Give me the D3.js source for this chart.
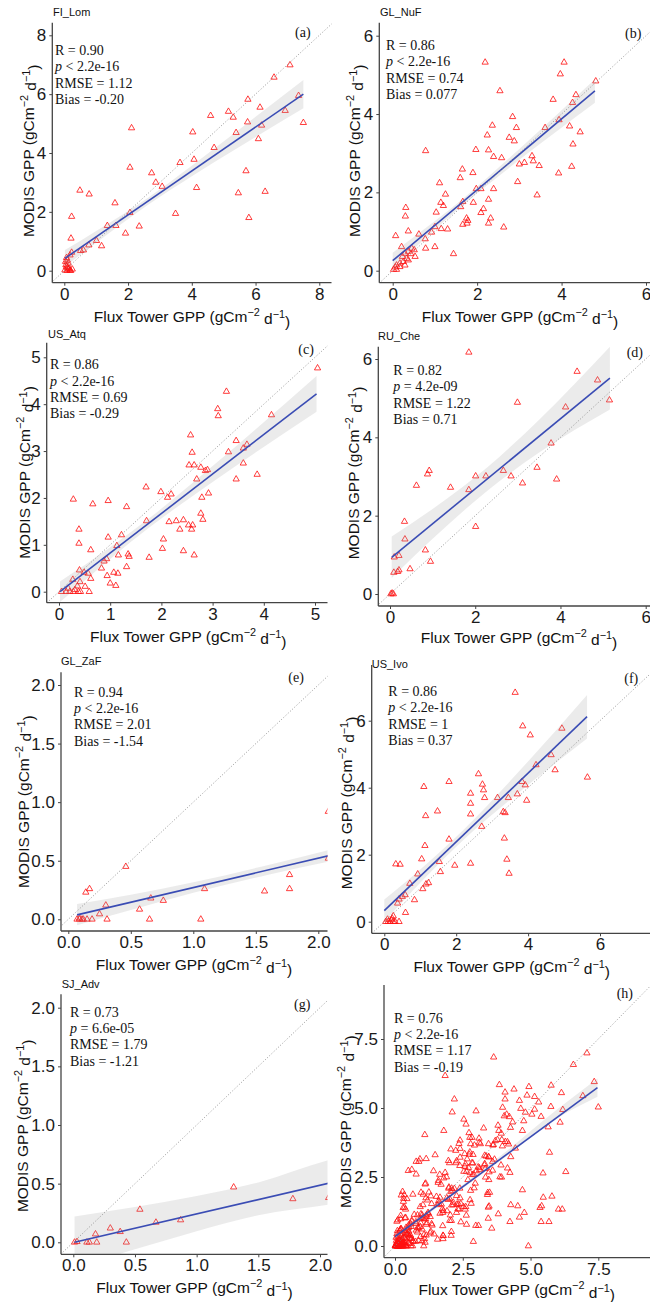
<!DOCTYPE html>
<html>
<head>
<meta charset="utf-8">
<script src="https://cdn.jsdelivr.net/npm/d3@7"></script>
<style>
  body { margin: 0; background: #fff; }
</style>
</head>
<body>
<svg id="fig" width="650" height="1302"></svg>
<script>
// ---------- MODIS vs flux-tower GPP, one array of [tower, modis] pairs per site ----------
const ptsFI_Lom = [[7.08,6.99],[6.58,6.57],[7.35,5.95],[7.5,5.03],[6.93,5.44],[5.76,5.82],[6.14,5.55],[5.15,5.41],[5.3,5.21],[4.59,5.27],[5.75,5.05],[6.19,4.94],[4.03,4.71],[5.39,4.69],[2.11,4.85],[6.09,4.48],[4.7,4.18],[4.07,3.78],[3.63,3.67],[2.06,3.51],[5.7,3.39],[2.74,3.32],[2.87,3.0],[3.07,2.86],[4.15,2.82],[0.49,2.73],[0.78,2.6],[5.46,2.64],[6.3,2.69],[1.59,2.3],[3.49,1.94],[0.23,1.84],[5.79,1.8],[2.06,1.97],[1.35,1.53],[1.62,1.53],[2.35,1.51],[1.92,1.27],[0.21,1.1],[1.01,1.02],[1.17,0.84],[0.77,0.87],[0.51,0.68],[0.23,0.62],[0.18,0.53],[0.07,0.44],[0.04,0.31],[0.07,0.14],[0.13,0.05],[0.02,0.02],[0.18,0.02],[0.1,0.1],[0.15,0.08],[0.05,0.2],[0.12,0.25],[0.2,0.0],[0.08,0.0],[0.25,0.05],[0.6,0.7],[0.1,0.35]];

const ptsGL_NuF = [[2.19,5.32],[4.06,5.32],[3.97,5.02],[4.81,4.84],[4.34,4.49],[2.54,4.59],[4.26,4.29],[3.8,4.37],[2.84,3.93],[2.36,3.71],[2.93,3.65],[3.61,3.65],[3.94,3.85],[4.19,3.69],[4.44,3.54],[2.24,3.46],[2.76,3.4],[2.88,3.31],[4.27,3.23],[1.97,3.09],[0.78,3.06],[2.27,3.08],[2.39,2.91],[2.58,2.88],[3.3,2.93],[3.33,2.8],[3.12,2.76],[3.0,2.72],[3.47,2.68],[1.65,2.59],[1.9,2.5],[3.93,2.49],[4.24,2.66],[1.6,2.37],[2.96,2.27],[1.11,2.24],[1.25,1.95],[3.42,1.93],[1.98,2.09],[2.09,2.09],[2.39,2.09],[1.14,1.74],[1.2,1.66],[1.66,1.76],[1.61,1.63],[1.91,1.74],[2.27,1.82],[2.15,1.58],[2.09,1.48],[1.03,1.49],[0.31,1.61],[0.3,1.39],[2.32,1.34],[1.75,1.34],[1.78,1.28],[1.76,1.21],[1.66,1.18],[2.27,1.21],[1.15,1.07],[1.3,1.06],[2.63,1.11],[1.0,1.12],[0.37,1.01],[0.92,0.98],[0.07,0.89],[0.62,0.93],[0.77,0.81],[0.21,0.61],[1.0,0.61],[0.78,0.57],[0.45,0.57],[0.51,0.53],[1.44,0.43],[0.29,0.44],[0.37,0.49],[0.53,0.36],[0.33,0.31],[0.25,0.23],[0.17,0.19],[0.09,0.14],[0.29,0.14],[0.06,0.09],[0.02,0.03],[0.09,0.03],[0.17,0.1],[0.37,0.27],[0.23,0.36],[0.43,0.43]];

const ptsUS_Atq = [[5.05,4.77],[3.27,4.27],[3.1,3.9],[3.11,3.75],[4.15,3.77],[2.57,3.34],[3.46,3.22],[3.67,3.14],[3.6,3.06],[3.31,2.98],[2.6,2.97],[3.6,2.74],[2.54,2.7],[2.64,2.7],[2.77,2.65],[2.86,2.58],[2.9,2.6],[2.69,2.4],[3.46,2.4],[3.87,2.5],[2.92,2.1],[0.28,1.97],[1.7,2.23],[1.99,2.13],[2.19,2.08],[2.12,2.01],[2.79,2.01],[0.96,1.94],[0.66,1.87],[1.32,1.81],[2.77,1.67],[1.71,1.51],[2.15,1.49],[2.29,1.51],[2.43,1.53],[2.81,1.54],[2.53,1.42],[2.61,1.42],[2.36,1.33],[2.59,1.33],[0.39,1.33],[1.22,1.21],[0.96,1.16],[0.39,1.03],[1.13,0.98],[2.04,1.12],[0.62,0.89],[2.02,0.92],[2.43,0.87],[1.35,0.8],[1.37,0.75],[1.16,0.78],[2.64,0.78],[1.76,0.73],[0.93,0.7],[0.88,0.65],[0.83,0.5],[1.32,0.53],[0.4,0.46],[0.49,0.41],[0.57,0.39],[1.07,0.41],[1.15,0.39],[0.62,0.28],[0.94,0.34],[0.27,0.26],[1.0,0.18],[1.11,0.13],[0.51,0.11],[0.36,0.12],[0.41,0.21],[0.31,0.04],[0.38,0.0],[0.42,0.0],[0.59,0.0],[0.05,0.0],[0.14,0.0],[0.21,0.0],[0.28,0.0],[0.18,0.07]];

const ptsRU_Che = [[1.85,6.17],[4.39,5.68],[4.87,5.46],[5.15,4.95],[2.99,4.89],[4.12,4.77],[3.78,3.85],[3.45,3.23],[3.91,2.93],[0.92,3.15],[0.88,3.06],[2.66,3.15],[2.01,3.01],[2.25,3.01],[2.84,3.01],[3.11,2.83],[0.62,2.77],[1.42,2.72],[1.85,2.66],[0.34,1.85],[2.01,1.72],[0.35,1.4],[0.83,1.12],[0.21,0.98],[0.1,0.94],[0.95,0.83],[0.47,0.64],[0.21,0.61],[0.18,0.57],[0.09,0.55],[0.05,0.02],[0.02,0.0],[0.08,0.0]];

const ptsGL_ZaF = [[0.46,0.45],[0.17,0.26],[0.14,0.23],[1.77,0.38],[1.77,0.26],[1.09,0.26],[1.57,0.24],[0.3,0.12],[0.66,0.18],[0.76,0.16],[0.57,0.085],[0.25,0.045],[0.09,0.01],[0.11,0.0],[0.12,0.0],[0.15,0.0],[0.19,0.0],[0.31,0.0],[0.65,0.0],[1.06,0.0],[0.09,0.0],[0.07,0.0],[2.08,0.92],[2.08,0.52]];

const ptsUS_Ivo = [[3.64,6.84],[3.85,5.84],[4.94,5.77],[4.06,5.57],[4.64,4.98],[4.22,4.68],[4.75,4.53],[5.65,4.31],[2.62,4.41],[1.1,4.03],[1.8,4.18],[2.73,4.1],[2.76,3.93],[2.4,3.83],[3.83,4.18],[3.92,4.08],[3.7,3.81],[2.79,3.7],[3.15,3.7],[3.45,3.7],[3.96,3.62],[2.4,3.53],[1.48,3.3],[2.4,3.21],[1.15,3.16],[3.31,3.28],[3.36,3.25],[2.71,2.84],[1.8,2.46],[3.34,2.49],[1.13,2.27],[1.04,1.87],[3.41,1.86],[0.32,1.72],[0.44,1.71],[1.53,1.79],[1.96,1.68],[2.4,1.74],[1.56,1.49],[3.47,1.44],[0.93,1.42],[0.71,1.14],[1.23,1.16],[1.16,1.12],[1.07,0.98],[0.5,0.75],[0.58,0.8],[0.41,0.67],[0.37,0.55],[0.84,0.65],[0.59,0.27],[0.25,0.17],[0.22,0.1],[0.2,0.05],[0.11,0.0],[0.04,0.0],[0.16,0.0],[0.3,0.0],[0.41,0.0],[0.25,0.0],[0.09,0.07]];

const ptsSJ_Adv = [[1.3,0.47],[1.78,0.37],[0.54,0.28],[0.87,0.19],[0.67,0.17],[0.3,0.12],[0.38,0.09],[0.18,0.07],[0.01,0.0],[0.03,0.005],[0.11,0.0],[0.13,0.0],[0.19,0.0],[0.43,0.0],[2.07,0.38]];

// site-days that appear only in the pooled panel (h)
const ptsPooledOnly = [[4.92,0.0],[2.89,0.16],[5.39,0.88],[5.68,0.88],[4.24,0.88],[4.59,1.04],[4.77,1.21],[4.27,1.49],[4.53,1.45],[5.35,1.39],[5.41,1.45],[6.03,1.33],[6.17,1.33],[4.7,2.03],[5.47,1.76],[3.44,1.0],[3.08,0.74],[2.98,0.74],[3.57,0.64],[3.81,1.16],[3.44,1.4]];

// ---------- fitted lm line: [[x start, y start], [x end, y end]] ----------
const fitFI_Lom = [[0.02,0.42],[7.5,6.0]];
const fitGL_NuF = [[0.0,0.255],[4.79,4.59]];
const fitUS_Atq = [[0.02,0.0],[5.03,4.22]];
const fitRU_Che = [[0.04,0.936],[5.16,5.51]];
const fitGL_ZaF = [[0.07,0.038],[2.3,0.597]];
const fitUS_Ivo = [[0.0,0.33],[5.64,6.12]];
const fitSJ_Adv = [[0.01,0.0],[2.3,0.56]];
const fitAll    = [[0.0,0.34],[7.47,5.74]];

// ---------- 95% confidence band: [x, lower, upper] ----------
const bandFI_Lom = [[0.02,0.14,0.70],[1,0.95,1.35],[2.64,2.25,2.49],[4,3.21,3.57],[5.5,4.21,4.81],[7.5,5.52,6.48]];
const bandGL_NuF = [[0,0.05,0.46],[1,1.05,1.27],[1.7,1.71,1.87],[3,2.83,3.11],[4.79,4.29,4.89]];
const bandUS_Atq = [[0.02,-0.22,0.22],[1,0.7,0.95],[1.8,1.4,1.6],[3,2.34,2.68],[5.03,3.84,4.6]];
const bandRU_Che = [[0.04,0.41,1.47],[1,1.41,2.17],[2.3,2.65,3.25],[3.5,3.61,4.45],[5.16,4.71,6.31]];
const bandGL_ZaF = [[0.07,-0.05,0.13],[0.5,0.08,0.21],[1,0.226,0.316],[1.6,0.38,0.464],[2.3,0.54,0.65]];
const bandUS_Ivo = [[0,0,0.66],[1,1.16,1.56],[2.2,2.44,2.74],[3.5,3.64,4.2],[5.64,5.47,6.77]];
const bandSJ_Adv = [[0.01,-0.22,0.22],[0.5,-0.06,0.3],[1,0.095,0.395],[1.5,0.23,0.51],[2.07,0.32,0.70],[2.3,0.36,0.76]];
const bandAll    = [[0,0.24,0.44],[2,1.73,1.85],[4,3.17,3.35],[6,4.64,4.96],[7.47,5.41,6.07]];

// ---------- agreement statistics: R, p, RMSE, Bias ----------
const statsFI_Lom = ["0.90", "< 2.2e-16", "1.12", "-0.20"];
const statsGL_NuF = ["0.86", "< 2.2e-16", "0.74", "0.077"];
const statsUS_Atq = ["0.86", "< 2.2e-16", "0.69", "-0.29"];
const statsRU_Che = ["0.82", "= 4.2e-09", "1.22", "0.71"];
const statsGL_ZaF = ["0.94", "< 2.2e-16", "2.01", "-1.54"];
const statsUS_Ivo = ["0.86", "< 2.2e-16", "1", "0.37"];
const statsSJ_Adv = ["0.73", "= 6.6e-05", "1.79", "-1.21"];
const statsAll    = ["0.76", "< 2.2e-16", "1.17", "-0.19"];

// ---------- axis ticks ----------
const ticks0to8 = [0, 2, 4, 6, 8];
const ticks0to6 = [0, 2, 4, 6];
const ticks0to5 = [0, 1, 2, 3, 4, 5];
const ticks0to2 = [0, 0.5, 1, 1.5, 2];
const ticks0to75 = [0, 2.5, 5, 7.5];

const ptsPooled = [].concat(ptsFI_Lom, ptsGL_NuF, ptsUS_Atq, ptsRU_Che, ptsGL_ZaF, ptsUS_Ivo, ptsSJ_Adv, ptsPooledOnly);

const fInt = d3.format("d"), fOne = d3.format(".1f");

// panel layout: box = [left, right, top, bottom]; xPx/yPx = pixel of first/last tick
const panels = [
  { site: "FI_Lom", tag: "(a)", pts: ptsFI_Lom, fit: fitFI_Lom, band: bandFI_Lom, stats: statsFI_Lom,
    xt: ticks0to8, yt: ticks0to8, fmt: fInt, box: [52.3, 331.5, 22.7, 282.7], xPx: [64.3, 319.3], yPx: [270.7, 35.3],
    title: [53, 16], st: [55, 55], tagAt: [295, 36.7], xLab: [192, 321.7], yLab: [33.5, 150.8] },
  { site: "GL_NuF", tag: "(b)", pts: ptsGL_NuF, fit: fitGL_NuF, band: bandGL_NuF, stats: statsGL_NuF,
    xt: ticks0to6, yt: ticks0to6, fmt: fInt, box: [379.3, 650, 22.7, 282.7], xPx: [392.7, 646], yPx: [270.7, 35.7],
    title: [380, 16], st: [386, 50], tagAt: [625, 38], xLab: [520, 321.7], yLab: [360, 150.8] },
  { site: "US_Atq", tag: "(c)", pts: ptsUS_Atq, fit: fitUS_Atq, band: bandUS_Atq, stats: statsUS_Atq,
    xt: ticks0to5, yt: ticks0to5, fmt: fInt, box: [46.7, 327.5, 342.7, 602.7], xPx: [59, 315], yPx: [591.7, 357.3],
    title: [48, 338], st: [50, 369.3], tagAt: [298.3, 354.3], xLab: [188.3, 641.7], yLab: [30, 472.5] },
  { site: "RU_Che", tag: "(d)", pts: ptsRU_Che, fit: fitRU_Che, band: bandRU_Che, stats: statsRU_Che,
    xt: ticks0to6, yt: ticks0to6, fmt: fInt, box: [378.3, 650, 346.7, 606], xPx: [390, 645.7], yPx: [594, 359],
    title: [378, 340], st: [393.3, 375], tagAt: [626.7, 357.3], xLab: [519, 642.5], yLab: [359, 473] },
  { site: "GL_ZaF", tag: "(e)", pts: ptsGL_ZaF, fit: fitGL_ZaF, band: bandGL_ZaF, stats: statsGL_ZaF,
    xt: ticks0to2, yt: ticks0to2, fmt: fOne, box: [61, 327.5, 672.3, 931], xPx: [68.3, 318.3], yPx: [919.3, 685],
    title: [61, 665], st: [74, 696.7], tagAt: [288.3, 682.3], xLab: [194, 970], yLab: [28.5, 801.7] },
  { site: "US_Ivo", tag: "(f)", pts: ptsUS_Ivo, fit: fitUS_Ivo, band: bandUS_Ivo, stats: statsUS_Ivo,
    xt: ticks0to6, yt: ticks0to6, fmt: fInt, box: [371.7, 650, 665, 933.3], xPx: [384.3, 600], yPx: [921.7, 720.7],
    title: [371.7, 668], st: [388.3, 696], tagAt: [624.3, 683.3], xLab: [511.7, 971.7], yLab: [351.7, 803] },
  { site: "SJ_Adv", tag: "(g)", pts: ptsSJ_Adv, fit: fitSJ_Adv, band: bandSJ_Adv, stats: statsSJ_Adv,
    xt: ticks0to2, yt: ticks0to2, fmt: fOne, box: [61, 327.5, 994.3, 1254.3], xPx: [73.3, 320], yPx: [1242.3, 1007.7],
    title: [61.7, 988.3], st: [70, 1016.7], tagAt: [294, 1009.3], xLab: [194.5, 1293.3], yLab: [27.5, 1125.8] },
  { site: "", tag: "(h)", pts: ptsPooled, fit: fitAll, band: bandAll, stats: statsAll,
    xt: ticks0to75, yt: ticks0to75, fmt: fOne, box: [384, 650, 985, 1257.7], xPx: [395, 598.3], yPx: [1246, 1039],
    title: null, st: [394, 1022.7], tagAt: [616.7, 998.3], xLab: [516.7, 1295.2], yLab: [351, 1121.7] }
];

const svg = d3.select("#fig");
const SANS = "'Liberation Sans', Arial, sans-serif";
const SERIF = "'Liberation Serif', 'Times New Roman', serif";
const tri = d3.symbol(d3.symbolTriangle, 17);

function unitLabel(sel, main) {
  sel.append("tspan").text(main + " (gCm");
  sel.append("tspan").attr("dy", "-0.55em").attr("font-size", "70%").text("\u22122");
  sel.append("tspan").attr("dy", "0.55em").text(" d");
  sel.append("tspan").attr("dy", "-0.55em").attr("font-size", "70%").text("\u22121");
  sel.append("tspan").attr("dy", "0.55em").text(")");
}

panels.forEach((p, i) => {
  const [L, R, T, B] = p.box;
  const x = d3.scaleLinear().domain([p.xt[0], p.xt[p.xt.length - 1]]).range(p.xPx);
  const y = d3.scaleLinear().domain([p.yt[0], p.yt[p.yt.length - 1]]).range(p.yPx);
  const g = svg.append("g");

  const clipId = "clip" + i;
  g.append("clipPath").attr("id", clipId)
    .append("rect").attr("x", L).attr("y", T).attr("width", R - L).attr("height", B - T);
  const plot = g.append("g").attr("clip-path", `url(#${clipId})`);

  // observations
  plot.append("g").selectAll("path").data(p.pts).join("path")
    .attr("d", tri)
    .attr("transform", d => `translate(${x(d[0])},${y(d[1])})`)
    .attr("fill", "none").attr("stroke", "#ff1010").attr("stroke-width", 0.9).attr("stroke-opacity", 0.9);

  // confidence band + fitted line
  plot.append("path").datum(p.band)
    .attr("d", d3.area().x(d => x(d[0])).y0(d => y(d[1])).y1(d => y(d[2])).curve(d3.curveMonotoneX))
    .attr("fill", "#999999").attr("fill-opacity", 0.2);
  plot.append("path").datum(p.fit)
    .attr("d", d3.line().x(d => x(d[0])).y(d => y(d[1])))
    .attr("fill", "none").attr("stroke", "#3a4cb4").attr("stroke-width", 1.6);

  // 1:1 reference line
  const lo = Math.min(x.invert(L), y.invert(B)), hi = Math.max(x.invert(R), y.invert(T));
  plot.append("line")
    .attr("x1", x(lo)).attr("y1", y(lo)).attr("x2", x(hi)).attr("y2", y(hi))
    .attr("stroke", "#8a8a8a").attr("stroke-width", 0.9).attr("stroke-dasharray", "1,2");

  // axes
  const ax = g.append("g").attr("transform", `translate(0,${B})`)
    .call(d3.axisBottom(x).tickValues(p.xt).tickFormat(p.fmt).tickSize(3).tickPadding(2));
  const ay = g.append("g").attr("transform", `translate(${L},0)`)
    .call(d3.axisLeft(y).tickValues(p.yt).tickFormat(p.fmt).tickSize(3).tickPadding(3));
  [ax, ay].forEach(a => {
    a.select(".domain").remove();
    a.selectAll(".tick line").attr("stroke", "#444").attr("stroke-width", 1);
    a.selectAll(".tick text").attr("font-size", 17).attr("font-family", SANS).attr("fill", "#1a1a1a");
  });
  g.append("line").attr("x1", L).attr("x2", R).attr("y1", B).attr("y2", B)
    .attr("stroke", "#444").attr("stroke-width", 1.3);
  g.append("line").attr("x1", L).attr("x2", L).attr("y1", T).attr("y2", B)
    .attr("stroke", "#444").attr("stroke-width", 1.3);

  // axis titles
  g.append("text").attr("x", p.xLab[0]).attr("y", p.xLab[1])
    .attr("text-anchor", "middle").attr("font-family", SANS).attr("font-size", 15.5).attr("fill", "#111")
    .call(unitLabel, "Flux Tower GPP");
  g.append("text").attr("transform", `translate(${p.yLab[0]},${p.yLab[1]}) rotate(-90)`)
    .attr("text-anchor", "middle").attr("font-family", SANS).attr("font-size", 15.5).attr("fill", "#111")
    .call(unitLabel, "MODIS GPP");

  // site name
  if (p.title) {
    g.append("text").attr("x", p.title[0]).attr("y", p.title[1])
      .attr("font-family", SANS).attr("font-size", 11).attr("fill", "#111").text(p.site);
  }

  // panel tag
  g.append("text").attr("x", p.tagAt[0]).attr("y", p.tagAt[1])
    .attr("font-family", SERIF).attr("font-size", 14).attr("fill", "#111").text(p.tag);

  // statistics block
  const st = g.append("g").attr("font-family", SERIF).attr("font-size", 14).attr("fill", "#111");
  const lh = 16.3;
  st.append("text").attr("x", p.st[0]).attr("y", p.st[1]).text("R = " + p.stats[0]);
  const pl = st.append("text").attr("x", p.st[0]).attr("y", p.st[1] + lh);
  pl.append("tspan").attr("font-style", "italic").text("p");
  pl.append("tspan").text(" " + p.stats[1]);
  st.append("text").attr("x", p.st[0]).attr("y", p.st[1] + 2 * lh).text("RMSE = " + p.stats[2]);
  st.append("text").attr("x", p.st[0]).attr("y", p.st[1] + 3 * lh).text("Bias = " + p.stats[3]);
});
</script>
</body>
</html>
